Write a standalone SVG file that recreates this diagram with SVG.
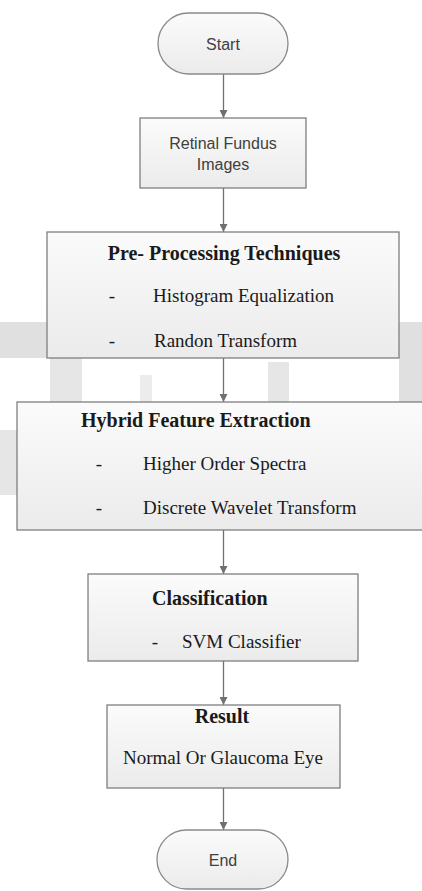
<svg xmlns="http://www.w3.org/2000/svg" width="422" height="891" viewBox="0 0 422 891">
  <defs>
    <linearGradient id="boxfill" x1="0" y1="0" x2="0" y2="1">
      <stop offset="0" stop-color="#fbfbfb"/>
      <stop offset="1" stop-color="#ebebeb"/>
    </linearGradient>
    <marker id="arrow" viewBox="0 0 8 8" refX="8" refY="4" markerWidth="8" markerHeight="8" markerUnits="userSpaceOnUse" orient="auto">
      <path d="M0,0 L8,4 L0,8 z" fill="#707070"/>
    </marker>
    <style>
      .box { fill: url(#boxfill); stroke: #7f7f7f; stroke-width: 1.3; }
      .term { fill: url(#boxfill); stroke: #8a8a8a; stroke-width: 1.3; }
      .sans { font-family: "Liberation Sans", Arial, sans-serif; font-size: 16px; fill: #404040; }
      .hd { font-family: "Liberation Serif", "Times New Roman", serif; font-size: 20px; font-weight: bold; fill: #1a1a1a; }
      .tx { font-family: "Liberation Serif", "Times New Roman", serif; font-size: 19px; fill: #1a1a1a; }
      .wm { fill: #e0e0e0; }
      .conn { stroke: #707070; stroke-width: 1.3; fill: none; marker-end: url(#arrow); }
    </style>
  </defs>
  <rect width="422" height="891" fill="#ffffff"/>
  <g id="watermark">
    <rect class="wm" x="0" y="322" width="47" height="36"/>
    <rect class="wm" x="399" y="322" width="23" height="80"/>
    <rect class="wm" x="50" y="358" width="32" height="44" opacity="0.8"/>
    <rect class="wm" x="140" y="375" width="12" height="27" opacity="0.6"/>
    <rect class="wm" x="268" y="362" width="21" height="40" opacity="0.8"/>
    <rect class="wm" x="0" y="430" width="17" height="65" opacity="0.8"/>
  </g>
  <g id="connectors">
    <line class="conn" x1="223.5" y1="74" x2="223.5" y2="118"/>
    <line class="conn" x1="223.5" y1="188" x2="223.5" y2="232"/>
    <line class="conn" x1="223.5" y1="358" x2="223.5" y2="402"/>
    <line class="conn" x1="223.5" y1="530" x2="223.5" y2="574"/>
    <line class="conn" x1="223.5" y1="661" x2="223.5" y2="705"/>
    <line class="conn" x1="223.5" y1="788" x2="223.5" y2="830"/>
  </g>
  <g id="start">
    <rect class="term" x="158" y="13" width="130" height="61" rx="30.5" ry="30.5"/>
    <text class="sans" x="223" y="49.5" text-anchor="middle">Start</text>
  </g>
  <g id="retinal">
    <rect class="box" x="140" y="118" width="166" height="70"/>
    <text class="sans" x="223" y="149" text-anchor="middle">Retinal Fundus</text>
    <text class="sans" x="223" y="170" text-anchor="middle">Images</text>
  </g>
  <g id="preprocessing">
    <rect class="box" x="47" y="232" width="352" height="126"/>
    <text class="hd" x="224" y="260" text-anchor="middle">Pre- Processing Techniques</text>
    <text class="tx" x="112" y="302" text-anchor="middle">-</text>
    <text class="tx" x="153" y="302">Histogram Equalization</text>
    <text class="tx" x="112" y="347" text-anchor="middle">-</text>
    <text class="tx" x="154" y="347">Randon Transform</text>
  </g>
  <g id="feature">
    <rect class="box" x="17" y="402" width="410" height="128"/>
    <text class="hd" x="81" y="427">Hybrid Feature Extraction</text>
    <text class="tx" x="99" y="470" text-anchor="middle">-</text>
    <text class="tx" x="143" y="470">Higher Order Spectra</text>
    <text class="tx" x="99" y="514" text-anchor="middle">-</text>
    <text class="tx" x="143" y="514">Discrete Wavelet Transform</text>
  </g>
  <g id="classification">
    <rect class="box" x="88" y="574" width="270" height="87"/>
    <text class="hd" x="152" y="605">Classification</text>
    <text class="tx" x="155" y="648" text-anchor="middle">-</text>
    <text class="tx" x="182" y="648">SVM Classifier</text>
  </g>
  <g id="result">
    <rect class="box" x="107" y="705" width="233" height="83"/>
    <text class="hd" x="222" y="723" text-anchor="middle">Result</text>
    <text class="tx" x="223" y="764" text-anchor="middle">Normal Or Glaucoma Eye</text>
  </g>
  <g id="end">
    <rect class="term" x="157" y="830" width="131" height="59" rx="29.5" ry="29.5"/>
    <text class="sans" x="223" y="866" text-anchor="middle">End</text>
  </g>
</svg>
